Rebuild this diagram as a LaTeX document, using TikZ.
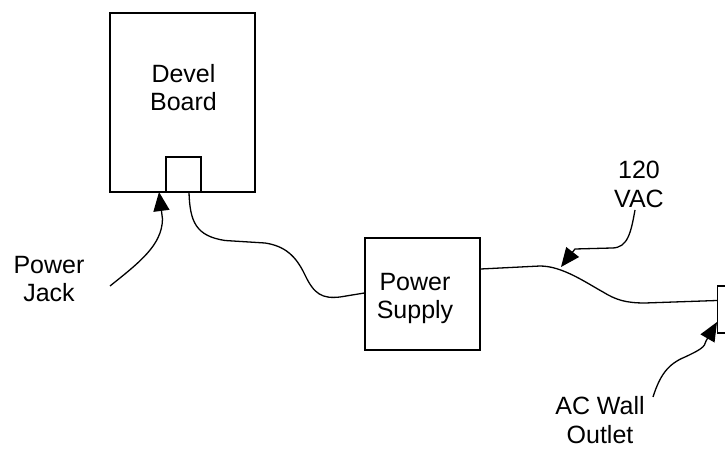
\documentclass[tikz,border=0pt]{standalone}
\usepackage{fontspec}
\setmainfont{Liberation Sans}
\usetikzlibrary{arrows.meta,calc}
\begin{document}
\begin{tikzpicture}[x=1pt,y=-1pt,
  box/.style={draw, line width=1.3pt, inner sep=0pt, align=center,
    font=\fontsize{25}{28.5}\selectfont},
  lbl/.style={align=center, inner sep=0pt, font=\fontsize{25}{28.5}\selectfont},
  cable/.style={line width=1.3pt},
  pointer/.style={line width=1.3pt, -{Triangle[length=19pt,width=16pt]}},
]
\useasboundingbox (0,0) rectangle (725,449);
\clip (0,0) rectangle (725,449);

% boxes
\node[box, minimum width=145pt, minimum height=179pt] (board) at (182.5,102.5) {};
\node[lbl] (boardlbl) at (183.5,87.5) {Devel\\Board};
\node[box, minimum width=35pt, minimum height=35pt] (jack) at (183.5,174.5) {};
\node[box, minimum width=115pt, minimum height=112pt] (psu) at (422.5,294) {};
\node[lbl] (psulbl) at (415,298.5) {Power\\Supply};
\node[box, minimum width=40pt, minimum height=47pt, anchor=west] (outlet) at (717,309.5) {};

% labels
\node[lbl] (pjlbl) at (49,279) {Power\\Jack};
\node[lbl] (vaclbl) at (639,184.5) {120\\VAC};
\node[lbl] (aclbl) at (600,420) {AC Wall\\Outlet};

% cables
\draw[cable] ($(jack.south)+(5.5,0)$) .. controls (190,222) and (196,236) .. (225,240.5)
  -- (265,243) .. controls (285,246) and (296,256) .. (305,275)
  .. controls (314,294) and (322,299) .. (340,297) -- ($(psu.west)+(0,-1)$);
\draw[cable] ($(psu.east)+(0,-25)$) -- (540,266)
  .. controls (562,266) and (585,282) .. (603,292)
  .. controls (616,300) and (626,303) .. (645,303) -- ($(outlet.west)+(0,-9)$);

% pointers
\coordinate (pjtail) at (110,286);
\coordinate (pjtip) at (159,192);
\draw[pointer] (pjtail) .. controls (140,262) and (162,245) .. (162.5,219) -- (pjtip);

\coordinate (vactail) at (635,210);
\coordinate (vactip) at (561,267);
\draw[pointer] (vactail) .. controls (631,232) and (628,248) .. (612,248) -- (575,249) -- (vactip);

\coordinate (actail) at (653,397);
\coordinate (actip) at (717,322);
\draw[pointer] (actail) .. controls (660,375) and (668,364) .. (685,357)
  .. controls (700,350) and (705,347) .. (706,341) -- (actip);
\end{tikzpicture}
\end{document}
